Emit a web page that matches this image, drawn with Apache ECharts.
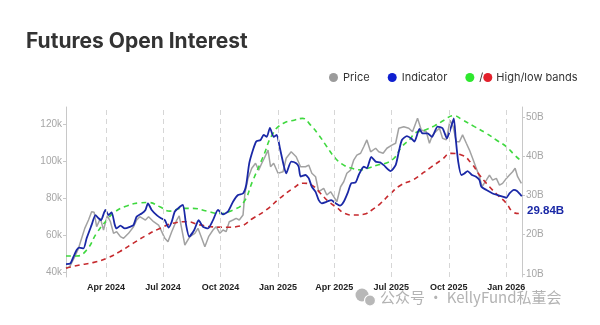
<!DOCTYPE html>
<html>
<head>
<meta charset="utf-8">
<script src="https://cdn.jsdelivr.net/npm/echarts@6/dist/echarts.min.js"></script>
<style>
html,body{margin:0;padding:0;background:#fff;}
#chart{width:600px;height:325px;}
</style>
</head>
<body>
<div id="chart"></div>
<script>
// ---- tick labels ----
const xTickDates = ['2024-04-01','2024-07-01','2024-10-01','2025-01-01','2025-04-01','2025-07-01','2025-10-01','2026-01-01'];
const xTickLabels = ['Apr 2024','Jul 2024','Oct 2024','Jan 2025','Apr 2025','Jul 2025','Oct 2025','Jan 2026'];
const leftTicks = [40, 60, 80, 100, 120];   // price, thousands
const rightTicks = [10, 20, 30, 40, 50];    // open interest, billions

// ---- Price (k) ----
const priceDates = ['2024-01-28','2024-02-03','2024-02-11','2024-02-17','2024-02-22','2024-02-27','2024-03-04','2024-03-09','2024-03-13','2024-03-17','2024-03-23','2024-03-28','2024-04-03','2024-04-08','2024-04-13','2024-04-18','2024-04-24','2024-04-29','2024-05-07','2024-05-15','2024-05-20','2024-05-25','2024-06-03','2024-06-08','2024-06-16','2024-06-24','2024-06-29','2024-07-04','2024-07-09','2024-07-15','2024-07-23','2024-07-27','2024-08-05','2024-08-13','2024-08-21','2024-08-26','2024-09-01','2024-09-06','2024-09-12','2024-09-19','2024-09-24','2024-09-30','2024-10-05','2024-10-10','2024-10-15','2024-10-21','2024-10-26','2024-10-31','2024-11-06','2024-11-09','2024-11-14','2024-11-20','2024-11-26','2024-12-01','2024-12-06','2024-12-10','2024-12-16','2024-12-20','2024-12-25','2025-01-01','2025-01-09','2025-01-14','2025-01-22','2025-01-30','2025-02-06','2025-02-14','2025-02-19','2025-02-24','2025-03-02','2025-03-07','2025-03-15','2025-03-20','2025-03-26','2025-03-31','2025-04-05','2025-04-11','2025-04-16','2025-04-21','2025-04-27','2025-05-02','2025-05-07','2025-05-13','2025-05-18','2025-05-23','2025-05-29','2025-06-06','2025-06-11','2025-06-18','2025-06-24','2025-07-02','2025-07-08','2025-07-13','2025-07-21','2025-07-29','2025-08-04','2025-08-12','2025-08-18','2025-08-26','2025-08-31','2025-09-05','2025-09-10','2025-09-16','2025-09-21','2025-09-27','2025-10-03','2025-10-08','2025-10-13','2025-10-18','2025-10-23','2025-10-29','2025-11-03','2025-11-08','2025-11-13','2025-11-19','2025-11-23','2025-11-30','2025-12-05','2025-12-10','2025-12-16','2025-12-21','2025-12-26','2026-01-01','2026-01-06','2026-01-11','2026-01-15','2026-01-19','2026-01-25'];
const priceK = [42.0,42.9,48.3,52.8,58.2,63.6,68.1,72.6,72.3,64.5,69.0,62.7,70.5,67.2,60.9,61.8,59.1,58.2,60.9,64.5,68.1,69.9,68.1,69.9,67.2,65.4,61.8,58.2,56.4,61.8,68.1,70.3,54.6,59.1,60.9,63.6,58.2,53.7,59.1,62.7,64.5,60.9,62.7,61.8,67.2,68.1,69.0,68.1,70.8,82.5,90.6,96.1,98.8,95.1,98.8,101.5,105.9,96.9,98.8,93.4,94.2,101.5,105.0,102.3,96.9,96.9,97.8,93.4,91.5,83.4,85.2,81.6,83.4,80.7,78.0,86.1,88.8,93.4,95.1,100.5,103.2,104.2,107.7,111.4,105.0,106.9,105.0,104.2,106.9,108.6,109.6,117.7,118.5,117.7,115.8,123.1,116.8,115.8,109.6,114.1,115.8,117.7,112.3,111.4,122.0,118.5,110.4,110.4,114.1,109.6,105.9,101.5,96.9,91.5,86.1,89.7,92.4,89.7,90.6,87.0,87.9,90.6,92.4,94.2,96.1,91.5,87.9];

// ---- Indicator: futures open interest (B) ----
const indDates = ['2024-01-28','2024-02-04','2024-02-09','2024-02-14','2024-02-18','2024-02-25','2024-03-01','2024-03-09','2024-03-15','2024-03-20','2024-03-24','2024-03-31','2024-04-05','2024-04-10','2024-04-15','2024-04-18','2024-04-24','2024-05-01','2024-05-09','2024-05-15','2024-05-20','2024-05-28','2024-06-03','2024-06-07','2024-06-13','2024-06-21','2024-06-28','2024-07-04','2024-07-10','2024-07-15','2024-07-20','2024-07-28','2024-08-02','2024-08-07','2024-08-12','2024-08-20','2024-08-27','2024-09-03','2024-09-11','2024-09-19','2024-09-27','2024-10-05','2024-10-13','2024-10-21','2024-10-29','2024-11-06','2024-11-11','2024-11-16','2024-11-22','2024-11-27','2024-12-04','2024-12-09','2024-12-14','2024-12-19','2024-12-25','2024-12-30','2025-01-04','2025-01-10','2025-01-14','2025-01-22','2025-01-30','2025-02-03','2025-02-06','2025-02-14','2025-02-19','2025-02-24','2025-03-02','2025-03-07','2025-03-12','2025-03-20','2025-03-27','2025-04-03','2025-04-10','2025-04-16','2025-04-22','2025-04-28','2025-05-05','2025-05-10','2025-05-18','2025-05-23','2025-05-30','2025-06-06','2025-06-13','2025-06-19','2025-06-30','2025-07-08','2025-07-13','2025-07-18','2025-07-26','2025-08-02','2025-08-07','2025-08-15','2025-08-20','2025-08-28','2025-09-04','2025-09-13','2025-09-21','2025-09-28','2025-10-04','2025-10-09','2025-10-12','2025-10-16','2025-10-21','2025-10-26','2025-10-31','2025-11-07','2025-11-13','2025-11-19','2025-11-22','2025-11-30','2025-12-10','2025-12-18','2025-12-26','2026-01-01','2026-01-06','2026-01-13','2026-01-18','2026-01-24','2026-01-26'];
const indB = [12.5,12.7,14.4,16.1,16.7,16.5,19.1,22.5,25.0,24.2,23.7,26.3,25.0,25.7,22.5,21.6,22.3,21.6,22.0,22.5,24.6,25.4,26.3,28.0,26.3,25.0,24.2,23.7,21.8,23.3,25.9,27.1,27.6,22.5,19.5,21.2,23.7,22.0,21.6,23.7,26.3,25.2,25.9,28.4,30.1,30.5,32.6,38.2,41.6,43.7,44.1,45.4,44.9,47.2,44.9,45.4,42.0,37.7,35.6,38.6,38.2,37.3,34.8,35.2,34.4,32.2,30.9,28.8,28.0,28.4,28.8,28.0,27.4,28.4,30.5,33.1,33.3,35.2,37.3,36.9,39.8,38.6,38.4,37.7,36.2,37.7,41.1,44.1,45.1,44.5,43.7,46.9,45.8,45.8,44.9,47.5,47.1,44.5,47.1,49.6,44.5,38.6,35.2,35.6,36.2,35.2,34.8,33.9,32.2,31.4,30.5,30.1,29.7,29.4,30.5,31.4,31.1,30.1,29.84];

// ---- High band (B) ----
const highDates = ['2024-01-28','2024-02-14','2024-03-01','2024-03-17','2024-04-02','2024-04-15','2024-05-04','2024-05-25','2024-06-08','2024-06-26','2024-07-12','2024-07-31','2024-08-18','2024-09-09','2024-09-30','2024-10-21','2024-11-06','2024-11-22','2024-12-08','2024-12-24','2025-01-09','2025-01-28','2025-02-09','2025-02-22','2025-03-07','2025-03-20','2025-04-03','2025-04-16','2025-04-29','2025-05-13','2025-05-26','2025-06-08','2025-06-22','2025-07-05','2025-07-18','2025-08-01','2025-08-07','2025-08-23','2025-09-08','2025-09-24','2025-10-08','2025-10-23','2025-11-11','2025-11-30','2025-12-16','2026-01-01','2026-01-14','2026-01-26'];
const highB = [14.6,14.6,16.1,20.4,23.7,25.8,27.3,28.1,28.2,27.1,26.0,26.7,26.7,26.0,25.4,26.3,28.0,33.9,39.8,45.8,48.3,49.2,49.6,47.9,45.4,42.4,39.4,37.7,36.9,36.5,37.0,37.7,38.2,39.4,42.4,44.5,45.8,46.6,47.7,49.2,50.3,49.2,47.5,45.8,44.1,42.4,40.3,38.6];

// ---- Low band (B) ----
const lowDates = ['2024-01-28','2024-02-19','2024-03-11','2024-04-02','2024-04-23','2024-05-14','2024-06-05','2024-06-26','2024-07-17','2024-08-08','2024-08-29','2024-09-19','2024-10-11','2024-11-01','2024-11-22','2024-12-13','2025-01-04','2025-01-25','2025-02-11','2025-02-24','2025-03-10','2025-03-23','2025-04-05','2025-04-18','2025-05-02','2025-05-18','2025-05-31','2025-06-14','2025-06-30','2025-07-16','2025-08-04','2025-08-13','2025-08-31','2025-09-19','2025-10-05','2025-10-21','2025-11-06','2025-11-19','2025-12-05','2025-12-18','2026-01-01','2026-01-11','2026-01-22','2026-01-26'];
const lowB = [11.5,12.3,12.9,14.0,15.7,17.8,19.9,21.6,22.9,23.3,22.5,22.0,21.9,22.2,24.2,26.3,29.3,31.8,33.1,32.6,30.5,28.4,26.9,25.4,25.0,25.2,26.3,28.0,30.5,32.6,33.9,34.8,36.9,39.0,40.7,40.3,38.2,35.2,32.2,30.1,28.0,25.9,25.4,25.4];

const xStart = '2024-01-28', xEnd = '2026-01-26';
const leftMin = 37.3, leftMax = 129.2;
const ts = s => Date.UTC(+s.slice(0, 4), +s.slice(5, 7) - 1, +s.slice(8, 10));
const zip = (d, v) => d.map((x, i) => [ts(x), v[i]]);
const xTickTs = xTickDates.map(ts);

const chart = echarts.init(document.getElementById('chart'), null, {renderer: 'canvas'});

const option = {
  backgroundColor: '#ffffff',
  animation: false,
  title: {
    text: 'Futures Open Interest',
    left: 21, top: 26,
    textStyle: {fontFamily: 'Inter', fontWeight: 700, fontSize: 21, color: '#333333'}
  },
  legend: {
    left: 324, top: 67,
    icon: 'circle', itemWidth: 9, itemHeight: 9, itemGap: 18,
    textStyle: {fontFamily: 'Inter', fontSize: 11, color: '#333333',
      rich: {
        sl: {fontFamily: 'Inter', fontSize: 11, color: '#333333'},
        rd: {width: 9, height: 9, borderRadius: 4.5, backgroundColor: '#e3202c'},
        tx: {fontFamily: 'Inter', fontSize: 11, color: '#333333', padding: [0, 0, 0, 4]}
      }
    },
    formatter: n => n === 'High/low bands' ? '{sl|/}{rd|}{tx|High/low bands}' : n,
    data: [
      {name: 'Price', itemStyle: {color: '#9b9b9b'}},
      {name: 'Indicator', itemStyle: {color: '#0f1fd0'}},
      {name: 'High/low bands', itemStyle: {color: '#2ee82e'}}
    ]
  },
  grid: {left: 66, right: 78, top: 107, bottom: 48},
  xAxis: {
    type: 'value',
    min: ts(xStart), max: ts(xEnd),
    axisLine: {show: false},
    axisTick: {show: false, customValues: xTickTs},
    splitLine: {show: false},
    axisLabel: {
      customValues: xTickTs,
      margin: 6,
      fontFamily: 'Liberation Sans', fontWeight: 'bold', fontSize: 9, color: '#222222',
      formatter: v => { const i = xTickTs.indexOf(v); return i >= 0 ? xTickLabels[i] : ''; }
    }
  },
  yAxis: [
    {
      type: 'value', position: 'left',
      min: leftMin, max: leftMax,
      axisLine: {show: true, lineStyle: {color: '#c8c8c8'}},
      axisTick: {show: true, length: 3, customValues: leftTicks, lineStyle: {color: '#c8c8c8'}},
      splitLine: {show: false},
      axisLabel: {customValues: leftTicks, margin: 4, fontFamily: 'Liberation Sans', fontSize: 10, color: '#a6a6a6', formatter: v => v + 'k'}
    },
    {
      type: 'value', position: 'right',
      min: 9.24, max: 52.5,
      axisLine: {show: true, lineStyle: {color: '#c8c8c8'}},
      axisTick: {show: true, length: 3, customValues: rightTicks, lineStyle: {color: '#c8c8c8'}},
      splitLine: {show: false},
      axisLabel: {customValues: rightTicks, margin: 4, fontFamily: 'Liberation Sans', fontSize: 10, color: '#a6a6a6', formatter: v => v + 'B'}
    }
  ],
  series: [
    {
      name: 'Price', type: 'line', yAxisIndex: 0, showSymbol: false,
      data: zip(priceDates, priceK),
      lineStyle: {color: '#a2a2a2', width: 1.5}, itemStyle: {color: '#9b9b9b'}, z: 1,
      markLine: {
        silent: true, symbol: 'none', label: {show: false}, animation: false,
        lineStyle: {color: '#d6d6d6', type: [5, 4], width: 1},
        data: xTickTs.map(t => [{coord: [t, leftMin]}, {coord: [t, leftMax]}])
      }
    },
    {
      name: 'High/low bands', type: 'line', yAxisIndex: 1, showSymbol: false, smooth: true,
      data: zip(highDates, highB),
      lineStyle: {color: '#3fd83f', width: 1.6, type: [5, 4]}, itemStyle: {color: '#2ee82e'}, z: 2
    },
    {
      name: 'Low band', type: 'line', yAxisIndex: 1, showSymbol: false, smooth: true,
      data: zip(lowDates, lowB),
      lineStyle: {color: '#c62a2e', width: 1.6, type: [5, 4]}, itemStyle: {color: '#c62a2e'}, z: 2
    },
    {
      name: 'Indicator', type: 'line', yAxisIndex: 1, showSymbol: false, smooth: 0.2,
      data: zip(indDates, indB),
      lineStyle: {color: '#1a28a6', width: 1.8}, itemStyle: {color: '#0f1fd0'}, z: 3,
      endLabel: {
        show: true, distance: 5, offset: [0, 15],
        formatter: p => p.value[1].toFixed(2) + 'B',
        fontFamily: 'Liberation Sans', fontWeight: 'bold', fontSize: 11.5, color: '#1a28a6'
      }
    }
  ],
  graphic: [
    {type: 'circle', shape: {cx: 362, cy: 295, r: 6.5}, style: {fill: '#b8b8b8'}, silent: true},
    {type: 'circle', shape: {cx: 370, cy: 300.5, r: 5.5}, style: {fill: '#b8b8b8', stroke: '#ffffff', lineWidth: 1.2}, silent: true},
    {
      type: 'text', left: 380, top: 290, silent: true,
      style: {text: '公众号 · KellyFund私董会', fill: '#b3b3b3', font: '15px "Noto Sans CJK SC"'}
    }
  ]
};
chart.setOption(option);
</script>
</body>
</html>
